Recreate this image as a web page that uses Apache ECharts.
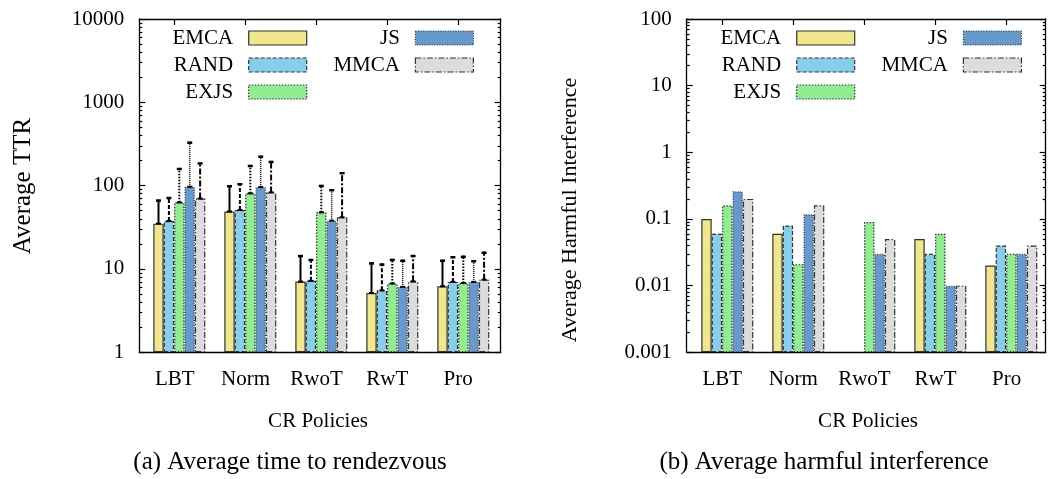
<!DOCTYPE html>
<html><head><meta charset="utf-8">
<script src="https://cdn.jsdelivr.net/npm/echarts@6/dist/echarts.min.js"></script>
<style>html,body{margin:0;padding:0;background:#fff}#c{width:1049px;height:479px}</style>
</head><body><div id="c"></div>
<script>
// ---------- data ----------
const categories = ['LBT', 'Norm', 'RwoT', 'RwT', 'Pro'];
const seriesNames = ['EMCA', 'RAND', 'EXJS', 'JS', 'MMCA'];

// (a) Average time to rendezvous (mean) and upper end of error bar
const ttrEMCA = [35, 49, 7.05, 5.15, 6.2];
const ttrRAND = [37.7, 51, 7.2, 5.55, 7.0];
const ttrEXJS = [63, 81, 48, 6.7, 6.8];
const ttrJS   = [97, 96, 38, 6.1, 7.0];
const ttrMMCA = [70, 83, 41.7, 7.1, 7.45];
const ttrHiEMCA = [68, 101, 14.7, 12, 12.9];
const ttrHiRAND = [73, 107, 13.2, 11.6, 14.2];
const ttrHiEXJS = [163, 177, 102, 13.2, 14.4];
const ttrHiJS   = [337, 229, 90.6, 12.9, 12.7];
const ttrHiMMCA = [190, 198, 145, 14.7, 16.1];

// (b) Average harmful interference
const hiEMCA = [0.1, 0.06, null, 0.05, 0.02];
const hiRAND = [0.06, 0.08, null, 0.03, 0.04];
const hiEXJS = [0.16, 0.021, 0.09, 0.06, 0.03];
const hiJS   = [0.26, 0.118, 0.03, 0.01, 0.03];
const hiMMCA = [0.2, 0.16, 0.05, 0.01, 0.04];

const ttrTickLabels = ['1', '10', '100', '1000', '10000'];
const harmTickLabels = ['0.001', '0.01', '0.1', '1', '10', '100'];

// ---------- styles ----------
const FONT = '"Liberation Serif", "Times New Roman", serif';
const seriesStyle = {
  EMCA: { color: '#f0e68c', border: 'solid', errDash: null, errWidth: 2 },
  RAND: { color: '#87ceeb', border: [4, 2], errDash: [4, 2], errWidth: 2 },
  EXJS: { color: '#90ee90', border: [1.5, 1.5], errDash: [1.5, 1.5], errWidth: 2 },
  JS:   { color: '#6699cc', border: [1, 1.5], errDash: [1, 1], errWidth: 1.5 },
  MMCA: { color: '#dcdcdc', border: [6, 2, 1.5, 2], errDash: [6, 2, 2, 2], errWidth: 2 }
};
const BAR_W = 10.4;
const W = 1049, H = 479;

const ttrValues = [ttrEMCA, ttrRAND, ttrEXJS, ttrJS, ttrMMCA];
const ttrHi = [ttrHiEMCA, ttrHiRAND, ttrHiEXJS, ttrHiJS, ttrHiMMCA];
const harmValues = [hiEMCA, hiRAND, hiEXJS, hiJS, hiMMCA];

const charts = [
  { frame: { left: 139.3, right: W - 500.7, top: 19, bottom: H - 352.3 }, xmin: -0.5, xmax: 4.6,
    bars: { left: 143.8, right: W - 498.8, top: 19, bottom: H - 352.3 },
    ymin: 1, ymax: 10000, tickLabels: ttrTickLabels, values: ttrValues, hi: ttrHi },
  { frame: { left: 686.7, right: W - 1045.7, top: 19, bottom: H - 352.3 }, xmin: -0.5, xmax: 4.55,
    bars: { left: 691.8, right: W - 1046.8, top: 19, bottom: H - 352.3 },
    ymin: 0.001, ymax: 100, tickLabels: harmTickLabels, values: harmValues, hi: null }
];

const grid = [], xAxis = [], yAxis = [], series = [];
const axisLine = { show: true, onZero: false, lineStyle: { color: '#000', width: 1.3 } };
const tickLine = { color: '#000', width: 1.2 };

charts.forEach((c, k) => {
  const gA = grid.length;
  grid.push(Object.assign({ containLabel: false }, c.frame));
  grid.push(Object.assign({ containLabel: false }, c.frame));
  grid.push(Object.assign({ containLabel: false }, c.bars));
  const gB = gA + 1, gC = gA + 2;

  // frame x axes
  xAxis.push({ type: 'value', gridIndex: gA, position: 'bottom', min: c.xmin, max: c.xmax,
    axisLine, axisTick: { show: false }, splitLine: { show: false },
    axisLabel: { customValues: [0, 1, 2, 3, 4], margin: 17, fontSize: 21, fontFamily: FONT, color: '#000',
      formatter: v => categories[Math.round(v)] } });
  xAxis.push({ type: 'value', gridIndex: gA, position: 'top', min: c.xmin, max: c.xmax,
    axisLine, axisTick: { show: true, inside: true, length: 6, customValues: [0, 1, 2, 3, 4], lineStyle: tickLine },
    axisLabel: { show: false }, splitLine: { show: false } });
  xAxis.push({ type: 'value', gridIndex: gB, min: 0, max: 1, show: false });
  const xBarIdx = xAxis.length;
  xAxis.push({ type: 'category', gridIndex: gC, data: categories, show: false });

  // frame y axes
  const fmt = v => {
    const lab = c.tickLabels.find(l => Math.abs(Math.log10(+l) - Math.log10(v)) < 1e-6);
    return lab || '';
  };
  yAxis.push({ type: 'log', logBase: 10, gridIndex: gA, position: 'left', min: c.ymin, max: c.ymax,
    axisLine, axisTick: { show: true, inside: true, length: 6, lineStyle: tickLine },
    axisLabel: { margin: 15, fontSize: 21, fontFamily: FONT, color: '#000', formatter: fmt },
    splitLine: { show: false } });
  yAxis.push({ type: 'log', logBase: 10, gridIndex: gA, position: 'right', min: c.ymin, max: c.ymax,
    axisLine, axisTick: { show: true, inside: true, length: 6, lineStyle: tickLine },
    axisLabel: { show: false }, splitLine: { show: false } });
  // minor ticks (log-spaced 2..9 in each decade), on a log-space helper axis
  const lo = Math.log10(c.ymin), hi = Math.log10(c.ymax);
  const minors = [];
  for (let d = lo; d < hi; d++) for (let m = 2; m <= 9; m++) minors.push(d + Math.log10(m));
  ['left', 'right'].forEach(pos => {
    yAxis.push({ type: 'value', gridIndex: gB, position: pos, min: lo, max: hi,
      axisLine: { show: false, onZero: false }, axisTick: { show: true, inside: true, length: 3, customValues: minors, lineStyle: tickLine },
      axisLabel: { show: false }, splitLine: { show: false } });
  });
  const yBarIdx = yAxis.length;
  yAxis.push({ type: 'log', logBase: 10, gridIndex: gC, min: c.ymin, max: c.ymax, startValue: c.ymin, show: false });

  seriesNames.forEach((name, s) => {
    const st = seriesStyle[name];
    series.push({
      type: 'bar', name, xAxisIndex: xBarIdx, yAxisIndex: yBarIdx,
      data: c.values[s], barWidth: BAR_W, barGap: '0%',
      itemStyle: { color: st.color, borderColor: '#333', borderWidth: 1.2, borderType: st.border },
      emphasis: { disabled: true }, silent: true, z: 2
    });
  });
  if (c.hi) {
    seriesNames.forEach((name, s) => {
      const st = seriesStyle[name];
      const data = categories.map((cat, i) => [i, c.values[s][i], c.hi[s][i]]);
      series.push({
        type: 'custom', name: name + ' err', xAxisIndex: xBarIdx, yAxisIndex: yBarIdx,
        data, encode: { x: 0, y: [1, 2] }, z: 5, silent: true,
        renderItem(params, api) {
          const i = api.value(0);
          const base = api.coord([i, api.value(1)]);
          const top = api.coord([i, api.value(2)]);
          const x = base[0] + (s - 2) * BAR_W;
          return { type: 'group', children: [
            { type: 'line', shape: { x1: x, y1: base[1], x2: x, y2: top[1] },
              style: { stroke: '#000', lineWidth: st.errWidth, lineDash: st.errDash } },
            { type: 'line', shape: { x1: x - 2.5, y1: top[1] + 1, x2: x + 2.5, y2: top[1] + 1 },
              style: { stroke: '#000', lineWidth: 2.5 } },
            { type: 'line', shape: { x1: x - 2.5, y1: base[1], x2: x + 2.5, y2: base[1] },
              style: { stroke: '#000', lineWidth: 2 } }
          ] };
        }
      });
    });
  }
});

function legendCol(names, iconRight, topY) {
  return {
    orient: 'vertical', align: 'right', right: W - iconRight, top: topY, padding: 0,
    itemWidth: 58, itemHeight: 14, itemGap: 6, icon: 'rect', selectedMode: false,
    data: names.map(n => ({ name: n, itemStyle: { color: seriesStyle[n].color, borderColor: '#333',
      borderWidth: 1.2, borderType: seriesStyle[n].border } })),
    formatter: n => n + '  ',
    itemStyle: { borderWidth: 1.2 },
    textStyle: { fontSize: 21, fontFamily: FONT, color: '#000', lineHeight: 21 }
  };
}
const legend = [
  legendCol(['EMCA', 'RAND', 'EXJS'], 307.3, 27.5),
  legendCol(['JS', 'MMCA'], 474, 27.5),
  legendCol(['EMCA', 'RAND', 'EXJS'], 855.3, 27.5),
  legendCol(['JS', 'MMCA'], 1022, 27.5)
];

function txt(text, x, y, size, rot) {
  return { type: 'text', x, y, rotation: rot || 0, silent: true,
    style: { text, font: size + 'px ' + FONT, fill: '#000', align: 'center', verticalAlign: 'middle' } };
}
const graphic = [
  txt('Average TTR', 23, 186, 25, Math.PI / 2),
  txt('Average Harmful Interference', 570, 210, 22, Math.PI / 2),
  txt('CR Policies', 318, 421, 21),
  txt('CR Policies', 868, 421, 21),
  txt('(a) Average time to rendezvous', 290, 462, 25),
  txt('(b) Average harmful interference', 824, 462, 25)
];

const chart = echarts.init(document.getElementById('c'), null, { renderer: 'canvas' });
chart.setOption({ animation: false, backgroundColor: '#fff', grid, xAxis, yAxis, series, legend, graphic });
</script></body></html>
